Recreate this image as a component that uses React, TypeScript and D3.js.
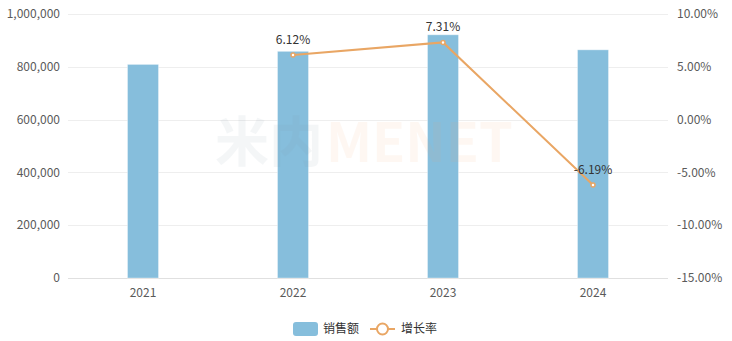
import React from "react";
import * as d3 from "d3";

const categories = ["2021", "2022", "2023", "2024"];
const sales = [809000, 858500, 921300, 864300];
const growth: (number | null)[] = [null, 6.12, 7.31, -6.19];
const leftTicks = [0, 200000, 400000, 600000, 800000, 1000000];
const rightTicks = [-15, -10, -5, 0, 5, 10];
const seriesNames = ["销售额", "增长率"];

const W = 732;
const H = 341;
const M = { left: 68, right: 668, top: 14, bottom: 278 };
const FONT = "'Microsoft YaHei', 'Noto Sans CJK SC', 'Noto Sans', sans-serif";
const BAR = "#86BEDC";
const LINE = "#E9A664";

export default function App() {
  const x = d3.scaleBand<string>().domain(categories).range([M.left, M.right]);
  const yL = d3.scaleLinear().domain([0, 1000000]).range([M.bottom, M.top]);
  const yR = d3.scaleLinear().domain([-15, 10]).range([M.bottom, M.top]);
  const fmt = d3.format(",");
  const cx = (c: string) => (x(c) as number) + x.bandwidth() / 2;
  const barW = 31;

  const pts = categories
    .map((c, i) => ({ c, v: growth[i] }))
    .filter((d) => d.v !== null) as { c: string; v: number }[];
  const line = d3
    .line<{ c: string; v: number }>()
    .x((d) => cx(d.c))
    .y((d) => yR(d.v));

  return (
    <svg
      width={W}
      height={H}
      style={{ position: "absolute", left: 0, top: 0, background: "#fff" }}
      fontFamily={FONT}
    >
      {leftTicks.map((t) => (
        <line
          key={t}
          x1={M.left}
          x2={M.right}
          y1={Math.round(yL(t)) + 0.5}
          y2={Math.round(yL(t)) + 0.5}
          stroke={t === 0 ? "#e0e0e0" : "#eeeeee"}
        />
      ))}
      {leftTicks.map((t) => (
        <text key={t} x={60} y={yL(t)} dy="0.35em" textAnchor="end" fontSize={12} fill="#5a5a5a">
          {fmt(t)}
        </text>
      ))}
      {rightTicks.map((t) => (
        <text key={t} x={677} y={yR(t)} dy="0.35em" textAnchor="start" fontSize={12} fill="#5a5a5a">
          {t.toFixed(2) + "%"}
        </text>
      ))}
      {categories.map((c) => (
        <text key={c} x={cx(c)} y={M.bottom + 15} dy="0.35em" textAnchor="middle" fontSize={12} fill="#5a5a5a">
          {c}
        </text>
      ))}
      {categories.map((c, i) => (
        <rect
          key={c}
          x={cx(c) - barW / 2}
          y={yL(sales[i])}
          width={barW}
          height={M.bottom - yL(sales[i])}
          fill={BAR}
          stroke="#ffffff"
          strokeOpacity={0.35}
        />
      ))}
      <path d={line(pts) || ""} fill="none" stroke={LINE} strokeWidth={2} />
      {pts.map((d) => (
        <circle key={d.c} cx={cx(d.c)} cy={yR(d.v)} r={2} fill="#fff" stroke={LINE} strokeWidth={1.5} />
      ))}
      {pts.map((d) => (
        <text key={d.c} x={cx(d.c)} y={yR(d.v) - 11} textAnchor="middle" fontSize={12} fill="#333">
          {d.v.toFixed(2) + "%"}
        </text>
      ))}
      <g opacity={0.08} fontWeight="bold" fontSize={54}>
        <text x={215} y={162} fill="#7c97a8">米内</text>
        <text x={326} y={162} fill="#f4a46a">MENET</text>
      </g>
      <rect x={293} y={322} width={25} height={14} rx={3} fill={BAR} />
      <text x={323} y={329} dy="0.35em" fontSize={12} fill="#333">{seriesNames[0]}</text>
      <line x1={370} x2={395} y1={329} y2={329} stroke={LINE} strokeWidth={2} />
      <circle cx={382.5} cy={329} r={5.5} fill="#fff" stroke={LINE} strokeWidth={2} />
      <text x={401} y={329} dy="0.35em" fontSize={12} fill="#333">{seriesNames[1]}</text>
    </svg>
  );
}
